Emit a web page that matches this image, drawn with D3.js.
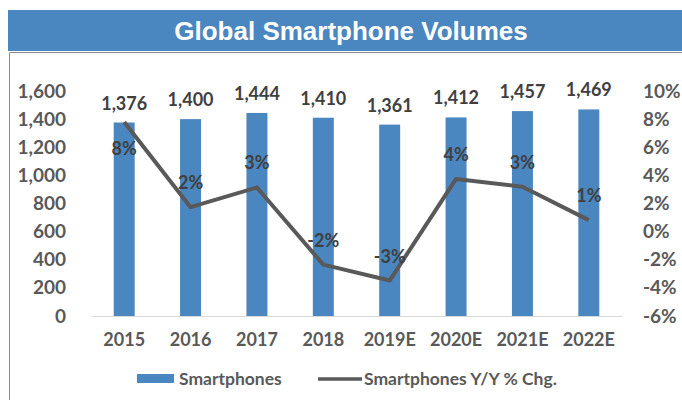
<!DOCTYPE html>
<html>
<head>
<meta charset="utf-8">
<script src="https://cdn.jsdelivr.net/npm/d3@7"></script>
<style>
  html, body { margin: 0; padding: 0; background: #fff; }
  svg { display: block; }
  text { font-family: Lato, "Open Sans", sans-serif; font-weight: bold; }
</style>
</head>
<body>
<svg id="chart" width="682" height="400"></svg>
<script>
// Shipments in millions and their year-over-year change (%)
const years = ["2015", "2016", "2017", "2018", "2019E", "2020E", "2021E", "2022E"];
const units = [1376, 1400, 1444, 1410, 1361, 1412, 1457, 1469];
const yoyPct = [7.8, 1.74, 3.14, -2.35, -3.48, 3.75, 3.19, 0.82];
const unitTicks = [0, 200, 400, 600, 800, 1000, 1200, 1400, 1600];
const pctTicks = [-6, -4, -2, 0, 2, 4, 6, 8, 10];

const title = "Global Smartphone Volumes";
const barName = "Smartphones";
const lineName = "Smartphones Y/Y % Chg.";

const blue = "#4a86c0";
const lineGrey = "#595959";
const labelGrey = "#404040";
const tickGrey = "#595959";

const svg = d3.select("#chart");

// Title banner and frame
svg.append("rect").attr("x", 8).attr("y", 10).attr("width", 674).attr("height", 41).attr("fill", blue);
svg.append("text").attr("x", 351).attr("y", 39.5).attr("text-anchor", "middle")
  .attr("fill", "#fff").style("font-family", "'Liberation Sans', Arial, sans-serif")
  .style("font-size", "26px").text(title);
svg.append("path").attr("d", "M9.5,400 V52.5 H682").attr("fill", "none")
  .attr("stroke", "#8c8c8c").attr("stroke-width", 1);

// Scales
const x = d3.scaleBand().domain(years).range([91, 622]).paddingInner(0.684).paddingOuter(0.342);
const yL = d3.scaleLinear().domain([0, 1600]).range([316, 91]);
const yR = d3.scaleLinear().domain([-6, 10]).range([316, 91]);

// Left axis
const axL = svg.append("g").attr("transform", "translate(66,0)")
  .call(d3.axisLeft(yL).tickValues(unitTicks).tickFormat(d3.format(",")).tickSize(0).tickPadding(0));
axL.select(".domain").remove();
axL.selectAll("text").attr("fill", tickGrey).style("font-size", "19px");

// Right axis
const axR = svg.append("g").attr("transform", "translate(643,0)")
  .call(d3.axisRight(yR).tickValues(pctTicks).tickFormat(d => d + "%").tickSize(0).tickPadding(0));
axR.select(".domain").remove();
axR.selectAll("text").attr("fill", tickGrey).style("font-size", "19px");

// Bottom axis
const axB = svg.append("g").attr("transform", "translate(0,316)")
  .call(d3.axisBottom(x).tickSize(0).tickPadding(17));
axB.select(".domain").attr("stroke", "#d9d9d9").attr("stroke-width", 1.2);
axB.selectAll("text").attr("fill", tickGrey).style("font-size", "18px");

// Bars
svg.append("g").selectAll("rect").data(years).join("rect")
  .attr("x", d => x(d)).attr("width", x.bandwidth())
  .attr("y", (d, i) => yL(units[i])).attr("height", (d, i) => yL(0) - yL(units[i]))
  .attr("fill", blue);

// Line
const cx = d => x(d) + x.bandwidth() / 2;
const line = d3.line().x((d, i) => cx(years[i])).y(d => yR(d));
svg.append("path").datum(yoyPct).attr("d", line).attr("fill", "none")
  .attr("stroke", lineGrey).attr("stroke-width", 4).attr("stroke-linejoin", "round");

// Bar value labels
svg.append("g").selectAll("text").data(years).join("text")
  .attr("x", d => cx(d)).attr("y", (d, i) => yL(units[i]) - 13)
  .attr("text-anchor", "middle").attr("fill", labelGrey).style("font-size", "18px")
  .text((d, i) => d3.format(",")(units[i]));

// Percentage labels: first sits below its point, others above
svg.append("g").selectAll("text").data(years).join("text")
  .attr("x", d => cx(d)).attr("y", (d, i) => i === 0 ? yR(yoyPct[i]) + 33 : yR(yoyPct[i]) - 18)
  .attr("text-anchor", "middle").attr("fill", labelGrey).style("font-size", "18px")
  .text((d, i) => Math.round(yoyPct[i]) + "%");

// Legend
const lg = svg.append("g").style("font-size", "17.5px");
lg.append("rect").attr("x", 137).attr("y", 374).attr("width", 37).attr("height", 9).attr("fill", blue);
lg.append("text").attr("x", 179).attr("y", 385).attr("fill", tickGrey).text(barName);
lg.append("line").attr("x1", 318).attr("x2", 362).attr("y1", 379).attr("y2", 379)
  .attr("stroke", lineGrey).attr("stroke-width", 3.5);
lg.append("text").attr("x", 364).attr("y", 385).attr("fill", tickGrey).text(lineName);
</script>
</body>
</html>
